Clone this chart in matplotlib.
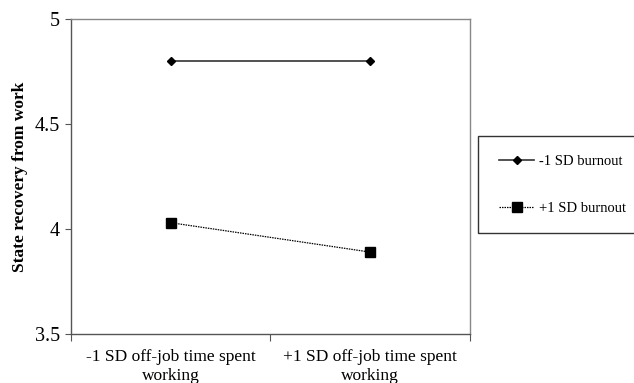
import matplotlib.pyplot as plt
from matplotlib.patches import Rectangle

# data
categories = ['-1 SD off-job time spent\nworking', '+1 SD off-job time spent\nworking']
low_burnout = [4.80, 4.80]
high_burnout = [4.03, 3.89]
series_names = ['-1 SD burnout', '+1 SD burnout']

plt.rcParams['font.family'] = ['Liberation Serif', 'DejaVu Serif']

fig = plt.figure(figsize=(6.34, 3.83), dpi=100)
ax = fig.add_axes([71 / 634, 49 / 383, 399 / 634, 315 / 383])

x = [1, 2]
ax.plot(x, low_burnout, color='#333333', linestyle='-', linewidth=1.2,
        marker='D', markersize=4.5, markerfacecolor='black', markeredgecolor='black',
        label=series_names[0])
ax.plot(x, high_burnout, color='black', linestyle=(0, (1.2, 0.8)), linewidth=0.9,
        marker='s', markersize=7, markerfacecolor='black', markeredgecolor='black',
        label=series_names[1])

ax.set_xlim(0.5, 2.5)
ax.set_ylim(3.5, 5)
ax.set_yticks([3.5, 4, 4.5, 5])
ax.set_yticklabels(['3.5', '4', '4.5', '5'], fontsize=14.5)
ax.set_xticks([0.5, 1.5, 2.5])
ax.set_xticklabels([])
ax.set_xticks(x, minor=True)
ax.set_xticklabels(categories, minor=True, fontsize=12.5, linespacing=1.25)
ax.tick_params(axis='x', which='minor', length=0, pad=11)
ax.tick_params(axis='x', which='major', length=5, width=0.8, color='#555555')
ax.tick_params(axis='y', length=4, width=0.8, color='#555555', pad=4)

for side in ['left', 'bottom']:
    ax.spines[side].set_color('#555555')
    ax.spines[side].set_linewidth(1.0)
for side in ['top', 'right']:
    ax.spines[side].set_color('#888888')
    ax.spines[side].set_linewidth(1.0)

ax.set_ylabel('State recovery from work', fontsize=12.5, fontweight='bold', labelpad=5)

# legend box runs off the right edge like in the original
fig.patches.append(Rectangle((478 / 634, 1 - 233 / 383), 0.3, 97 / 383,
                             transform=fig.transFigure, fill=False,
                             edgecolor='#333333', linewidth=1.0))
fig.legend(loc='upper left', bbox_to_anchor=(486 / 634, 1 - 142 / 383),
           frameon=False, fontsize=10.5, handlelength=2.4, labelspacing=2.3,
           handletextpad=0.35)

fig.savefig('out.png', dpi=100)
